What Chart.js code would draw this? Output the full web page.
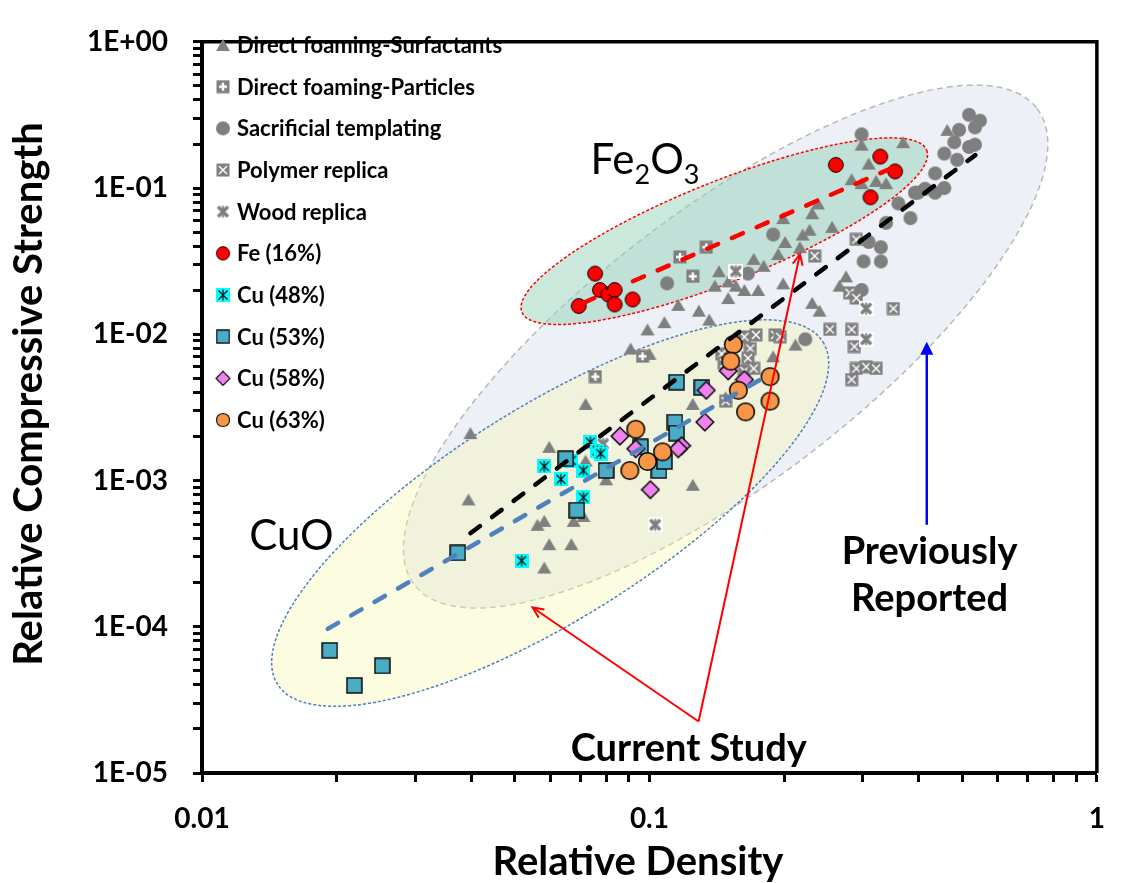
<!DOCTYPE html>
<html>
<head>
<meta charset="utf-8">
<title>Relative compressive strength vs relative density</title>
<script src="https://cdn.jsdelivr.net/npm/chart.js@4.4.1/dist/chart.umd.min.js"></script>
<style>
  html, body { margin: 0; padding: 0; background: #fff; }
  #wrap { width: 1125px; height: 883px; }
</style>
</head>
<body>
<div id="wrap"><canvas id="chart" width="1125" height="883"></canvas></div>
<script>
// ---- axis ticks ----
const xMajor = [0.01, 0.1, 1];
const xTickLabels = ['0.01', '0.1', '1'];
const yMajor = [1e-5, 1e-4, 1e-3, 1e-2, 1e-1, 1];
const yTickLabels = ['1E-05', '1E-04', '1E-03', '1E-02', '1E-01', '1E+00'];

// ---- literature data (grey) ----
const surfX = [0.369, 0.298, 0.309, 0.283, 0.298, 0.321, 0.338, 0.238, 0.199, 0.231, 0.228, 0.220, 0.256, 0.201,
  0.217, 0.194, 0.171, 0.180, 0.143, 0.140, 0.150, 0.156, 0.163, 0.175, 0.150, 0.116, 0.129, 0.136, 0.108, 0.099,
  0.199, 0.231, 0.240, 0.266, 0.275, 0.0908, 0.100, 0.212, 0.189, 0.463, 0.0720, 0.0398, 0.0597, 0.0720, 0.0800,
  0.125, 0.0394, 0.0562, 0.0582, 0.0677, 0.0712, 0.0597, 0.0669, 0.0582, 0.148, 0.125];
const surfY = [0.206, 0.198, 0.147, 0.115, 0.108, 0.112, 0.108, 0.0785, 0.0623, 0.0673, 0.0519, 0.0481, 0.0543, 0.0428,
  0.0394, 0.0354, 0.0328, 0.0294, 0.0270, 0.0215, 0.0230, 0.0215, 0.0201, 0.0201, 0.0177, 0.0159, 0.0145, 0.0126, 0.0121, 0.0108,
  0.0223, 0.0164, 0.0145, 0.0215, 0.0249, 0.00799, 0.00735, 0.0085, 0.00707, 0.250, 0.00334, 0.00211, 0.00170, 0.00137, 0.00102,
  0.000935, 0.000743, 0.000498, 0.000530, 0.000530, 0.000572, 0.000367, 0.000367, 0.000254, 0.00372, 0.00334];

const partX = [0.117, 0.134, 0.125, 0.0965, 0.0757];
const partY = [0.0338, 0.0394, 0.0249, 0.00707, 0.00513];

const sacX = [0.298, 0.189, 0.1095, 0.166, 0.360, 0.383, 0.398, 0.338, 0.309, 0.329, 0.301, 0.329, 0.298, 0.223, 0.435,
  0.518, 0.548, 0.492, 0.534, 0.480, 0.456, 0.518, 0.534, 0.487, 0.456, 0.435, 0.413, 0.392];
const sacY = [0.233, 0.0481, 0.0223, 0.026, 0.0785, 0.0623, 0.0929, 0.0578, 0.0428, 0.0394, 0.0315, 0.0315, 0.0201, 0.00925, 0.126,
  0.317, 0.289, 0.250, 0.260, 0.206, 0.172, 0.191, 0.198, 0.156, 0.100, 0.0929, 0.0988, 0.0929];

const polyX = [0.290, 0.234, 0.280, 0.290, 0.351, 0.253, 0.283, 0.287, 0.290, 0.305, 0.321, 0.283, 0.163, 0.173, 0.191,
  0.196, 0.168, 0.166, 0.145, 0.147, 0.163, 0.171, 0.148];
const polyY = [0.0445, 0.0343, 0.0192, 0.0177, 0.0150, 0.0108, 0.0108, 0.00824, 0.00584, 0.00600, 0.00584, 0.00490, 0.0096, 0.0099, 0.0099,
  0.0096, 0.00799, 0.00686, 0.00735, 0.00635, 0.00562, 0.00584, 0.00349];

const woodX = [0.305, 0.305, 0.156, 0.103, 0.0788];
const woodY = [0.0150, 0.00925, 0.0270, 0.000498, 0.00178];

// ---- this work ----
const feX = [0.0695, 0.0756, 0.0775, 0.0809, 0.0836, 0.0836, 0.0917, 0.261, 0.328, 0.354, 0.312];
const feY = [0.0156, 0.0260, 0.0201, 0.0187, 0.0201, 0.0160, 0.0173, 0.144, 0.164, 0.130, 0.0865];

const cu48X = [0.0738, 0.0765, 0.0778, 0.0582, 0.0634, 0.0712, 0.0712, 0.0518, 0.0669];
const cu48Y = [0.00183, 0.00160, 0.00153, 0.00125, 0.00102, 0.00117, 0.000766, 0.000283, 0.00137];

const cu53X = [0.0193, 0.0219, 0.0253, 0.0373, 0.0650, 0.0800, 0.0688, 0.114, 0.115, 0.105, 0.108, 0.115, 0.131, 0.0955];
const cu53Y = [0.0000690, 0.0000397, 0.0000540, 0.000320, 0.00141, 0.00117, 0.000627, 0.00251, 0.00211, 0.00117, 0.00135, 0.00470, 0.00433, 0.00170];

const cu58X = [0.150, 0.163, 0.134, 0.133, 0.0859, 0.0932, 0.118, 0.116, 0.1005];
const cu58Y = [0.00562, 0.00490, 0.00414, 0.00251, 0.00201, 0.00165, 0.00173, 0.00165, 0.000866];

const cu63X = [0.154, 0.152, 0.158, 0.186, 0.186, 0.164, 0.0932, 0.107, 0.099, 0.0904];
const cu63Y = [0.0085, 0.00655, 0.00414, 0.00513, 0.00349, 0.00295, 0.00224, 0.00157, 0.00135, 0.00117];

// ---- power-law trend lines ----
const allFitX = [0.0398, 0.535];
const allFitY = [0.000436, 0.168];
const feFitX = [0.0712, 0.356];
const feFitY = [0.0164, 0.141];
const cuFitX = [0.0191, 0.183];
const cuFitY = [0.0000967, 0.0052];

// ---- marker sprites ----
const GRAY = '#7f7f7f';
function sprite(size, paint) {
  const c = document.createElement('canvas');
  c.width = size;
  c.height = size;
  paint(c.getContext('2d'), size);
  return c;
}
function disc(g, c, r, fill, stroke, lw) {
  g.beginPath();
  g.arc(c, c, r, 0, Math.PI * 2);
  g.fillStyle = fill;
  g.fill();
  if (stroke) { g.lineWidth = lw; g.strokeStyle = stroke; g.stroke(); }
}
const markers = {
  triangle: sprite(16, (g) => {
    g.fillStyle = GRAY;
    g.beginPath(); g.moveTo(8, 2); g.lineTo(15, 14); g.lineTo(1, 14); g.closePath(); g.fill();
  }),
  plusBox: sprite(14, (g) => {
    g.fillStyle = GRAY; g.fillRect(0.5, 0.5, 13, 13);
    g.strokeStyle = '#fff'; g.lineWidth = 2.4;
    g.beginPath(); g.moveTo(3, 7); g.lineTo(11, 7); g.moveTo(7, 3); g.lineTo(7, 11); g.stroke();
  }),
  dot: sprite(16, (g) => disc(g, 8, 7, GRAY)),
  crossBox: sprite(14, (g) => {
    g.fillStyle = GRAY; g.fillRect(0.5, 0.5, 13, 13);
    g.strokeStyle = '#fff'; g.lineWidth = 1.5;
    g.beginPath(); g.moveTo(3, 3); g.lineTo(11, 11); g.moveTo(11, 3); g.lineTo(3, 11); g.stroke();
  }),
  // asterisk on a white box
  star: sprite(15, (g) => {
    g.fillStyle = '#fff'; g.fillRect(0, 0, 15, 15);
    g.strokeStyle = GRAY; g.lineWidth = 3.2; g.lineCap = 'butt';
    g.beginPath();
    g.moveTo(2.5, 2.5); g.lineTo(12.5, 12.5); g.moveTo(12.5, 2.5); g.lineTo(2.5, 12.5);
    g.stroke();
    g.lineWidth = 2;
    g.beginPath(); g.moveTo(7.5, 1.5); g.lineTo(7.5, 13.5); g.stroke();
  }),
  fe: sprite(18, (g) => disc(g, 9, 7.4, '#ff0000', '#000', 1)),
  cu48: sprite(14, (g) => {
    g.fillStyle = '#00ffff'; g.fillRect(0, 0, 14, 14);
    g.strokeStyle = '#000'; g.lineWidth = 1.1;
    g.beginPath();
    g.moveTo(2.5, 2.5); g.lineTo(11.5, 11.5); g.moveTo(11.5, 2.5); g.lineTo(2.5, 11.5);
    g.moveTo(7, 1.5); g.lineTo(7, 12.5);
    g.stroke();
  }),
  cu53: sprite(17, (g) => {
    g.fillStyle = '#4bacc6'; g.fillRect(1, 1, 15, 15);
    g.strokeStyle = '#000'; g.lineWidth = 1.4; g.strokeRect(1, 1, 15, 15);
  }),
  cu58: sprite(20, (g) => {
    g.beginPath(); g.moveTo(10, 1.2); g.lineTo(18.8, 10); g.lineTo(10, 18.8); g.lineTo(1.2, 10); g.closePath();
    g.fillStyle = '#ee82ee'; g.fill();
    g.strokeStyle = '#000'; g.lineWidth = 1.4; g.stroke();
  }),
  cu63: sprite(21, (g) => disc(g, 10.5, 8.8, '#f79646', '#000', 1.5)),
};

// bottom-most series first
const series = [
  { label: 'Direct foaming-Surfactants', x: surfX, y: surfY, marker: 'triangle' },
  { label: 'Direct foaming-Particles', x: partX, y: partY, marker: 'plusBox' },
  { label: 'Sacrificial templating', x: sacX, y: sacY, marker: 'dot' },
  { label: 'Polymer replica', x: polyX, y: polyY, marker: 'crossBox' },
  { label: 'Wood replica', x: woodX, y: woodY, marker: 'star' },
  { label: 'Fe (16%)', x: feX, y: feY, marker: 'fe', legendScale: 0.9 },
  { label: 'Cu (48%)', x: cu48X, y: cu48Y, marker: 'cu48' },
  { label: 'Cu (53%)', x: cu53X, y: cu53Y, marker: 'cu53', legendScale: 0.85 },
  { label: 'Cu (58%)', x: cu58X, y: cu58Y, marker: 'cu58', legendScale: 0.8 },
  { label: 'Cu (63%)', x: cu63X, y: cu63Y, marker: 'cu63', legendScale: 0.75 },
];

const trends = [
  { x: allFitX, y: allFitY, color: '#000000' },
  { x: cuFitX, y: cuFitY, color: '#4f81bd' },
  { x: feFitX, y: feFitY, color: '#ff0000' },
];

// shaded regions: centre in data units, semi-axes in px, rotation in degrees
const regions = [
  { cx: 0.148, cy: 0.00824, rx: 392, ry: 136, rot: -37.4, fill: 'rgba(222,227,238,0.55)', stroke: '#b8b8b8', dash: [6, 4] },
  { cx: 0.0600, cy: 0.000599, rx: 322, ry: 106, rot: -32.1, fill: 'rgba(245,245,170,0.35)', stroke: '#4f81bd', dash: [3, 2] },
  { cx: 0.147, cy: 0.0507, rx: 218, ry: 50, rot: -21.8, fill: 'rgba(150,210,185,0.5)', stroke: '#ff0000', dash: [3, 2] },
];

// callout anchors in data units
const notes = {
  fe2o3: { x: 0.0738, y: 0.124 },
  cuo: { x: 0.01275, y: 0.000415 },
  previous: { x: 0.4227, y: 0.000320, y2: 0.000153 },
  prevArrow: { x: 0.4167, y0: 0.000498, y1: 0.0089 },
  current: { x: 0.1224, y: 0.0000149 },
  currentFrom: { x: 0.1288, y: 0.0000225 },
  currentTips: [{ x: 0.217, y: 0.0354 }, { x: 0.0548, y: 0.0001355 }],
};

function logTicks(min, max) {
  const out = [];
  for (let e = Math.round(Math.log10(min)); e <= Math.round(Math.log10(max)); e++) {
    for (let m = 1; m <= 9; m++) {
      const v = Number((m * Math.pow(10, e)).toPrecision(6));
      if (v >= min && v <= max) out.push({ value: v });
    }
  }
  return out;
}

function labelFor(v, majors, labels) {
  const i = majors.findIndex((m) => Math.abs(v / m - 1) < 1e-6);
  return i >= 0 ? labels[i] : '';
}

function arrowHead(ctx, x0, y0, x1, y1, len, half, filled) {
  const a = Math.atan2(y1 - y0, x1 - x0);
  const bx = x1 - Math.cos(a) * len;
  const by = y1 - Math.sin(a) * len;
  ctx.beginPath();
  ctx.moveTo(bx + Math.sin(a) * half, by - Math.cos(a) * half);
  ctx.lineTo(x1, y1);
  ctx.lineTo(bx - Math.sin(a) * half, by + Math.cos(a) * half);
  if (filled) { ctx.closePath(); ctx.fill(); } else { ctx.stroke(); }
}

const regionsPlugin = {
  id: 'regions',
  beforeDatasetsDraw(chart) {
    const { ctx, chartArea, scales: { x, y } } = chart;
    ctx.save();
    ctx.beginPath();
    ctx.rect(chartArea.left, chartArea.top, chartArea.width, chartArea.height);
    ctx.clip();
    regions.forEach((r) => {
      ctx.beginPath();
      ctx.ellipse(x.getPixelForValue(r.cx), y.getPixelForValue(r.cy), r.rx, r.ry, r.rot * Math.PI / 180, 0, Math.PI * 2);
      ctx.fillStyle = r.fill;
      ctx.fill();
      ctx.setLineDash(r.dash);
      ctx.lineWidth = 1.5;
      ctx.strokeStyle = r.stroke;
      ctx.stroke();
    });
    ctx.restore();
  },
};

const notesPlugin = {
  id: 'notes',
  afterDatasetsDraw(chart) {
    const { ctx, scales: { x, y } } = chart;
    ctx.save();
    ctx.fillStyle = '#000';
    ctx.textBaseline = 'alphabetic';

    // Fe2O3 with subscripts
    let px = x.getPixelForValue(notes.fe2o3.x);
    const py = y.getPixelForValue(notes.fe2o3.y);
    const parts = [['Fe', false], ['2', true], ['O', false], ['3', true]];
    parts.forEach(([t, sub]) => {
      ctx.font = sub ? '27px Lato' : '42px Lato';
      ctx.textAlign = 'left';
      ctx.fillText(t, px, sub ? py + 10 : py);
      px += ctx.measureText(t).width;
    });

    ctx.font = '42px Lato';
    ctx.textBaseline = 'middle';
    ctx.fillText('CuO', x.getPixelForValue(notes.cuo.x), y.getPixelForValue(notes.cuo.y));

    // previously reported callout
    ctx.font = 'bold 38px Lato';
    ctx.textAlign = 'center';
    ctx.textBaseline = 'alphabetic';
    const prx = x.getPixelForValue(notes.previous.x);
    ctx.fillText('Previously', prx, y.getPixelForValue(notes.previous.y) + 11);
    ctx.fillText('Reported', prx, y.getPixelForValue(notes.previous.y2) + 11);

    const bx = x.getPixelForValue(notes.prevArrow.x);
    const by0 = y.getPixelForValue(notes.prevArrow.y0);
    const by1 = y.getPixelForValue(notes.prevArrow.y1);
    ctx.strokeStyle = '#0000ff';
    ctx.fillStyle = '#0000ff';
    ctx.lineWidth = 2.5;
    ctx.beginPath(); ctx.moveTo(bx, by0); ctx.lineTo(bx, by1 + 10); ctx.stroke();
    arrowHead(ctx, bx, by0, bx, by1, 13, 6.5, true);

    // current study callout
    ctx.fillStyle = '#000';
    ctx.fillText('Current Study', x.getPixelForValue(notes.current.x), y.getPixelForValue(notes.current.y) + 13);
    const cx0 = x.getPixelForValue(notes.currentFrom.x);
    const cy0 = y.getPixelForValue(notes.currentFrom.y);
    ctx.strokeStyle = '#ff0000';
    ctx.lineWidth = 2;
    notes.currentTips.forEach((t) => {
      const tx = x.getPixelForValue(t.x);
      const ty = y.getPixelForValue(t.y);
      ctx.beginPath(); ctx.moveTo(cx0, cy0); ctx.lineTo(tx, ty); ctx.stroke();
      arrowHead(ctx, cx0, cy0, tx, ty, 11, 5, false);
    });
    ctx.restore();
  },
  afterDraw(chart) {
    const { ctx, chartArea } = chart;
    ctx.save();
    // top and right frame
    ctx.strokeStyle = '#000';
    ctx.lineWidth = 3.5;
    ctx.beginPath();
    ctx.moveTo(chartArea.left, chartArea.top);
    ctx.lineTo(chartArea.right, chartArea.top);
    ctx.lineTo(chartArea.right, chartArea.bottom);
    ctx.stroke();

    // legend
    ctx.font = 'bold 22px Lato';
    ctx.fillStyle = '#000';
    ctx.textAlign = 'left';
    ctx.textBaseline = 'alphabetic';
    series.forEach((s, i) => {
      const cy = 45 + i * 41.67;
      const img = markers[s.marker];
      const k = s.legendScale || 1;
      ctx.drawImage(img, 223 - img.width * k / 2, cy - img.height * k / 2, img.width * k, img.height * k);
      ctx.fillText(s.label, 237, cy + 8);
    });

    // axis titles
    ctx.font = 'bold 40px Lato';
    ctx.textAlign = 'center';
    ctx.fillText('Relative Density', 638, 875);
    ctx.translate(42, 394);
    ctx.rotate(-Math.PI / 2);
    ctx.fillText('Relative Compressive Strength', 0, 0);
    ctx.restore();
  },
};

function build() {
  const datasets = series.map((s, i) => ({
    label: s.label,
    data: s.x.map((v, k) => ({ x: v, y: s.y[k] })),
    pointStyle: markers[s.marker],
    pointRadius: 8,
    order: 100 - i,
  }));
  trends.forEach((t) => {
    datasets.push({
      label: '',
      data: t.x.map((v, k) => ({ x: v, y: t.y[k] })),
      showLine: true,
      borderColor: t.color,
      borderWidth: 4.5,
      borderDash: [12, 15],
      borderCapStyle: 'round',
      pointRadius: 0,
      fill: false,
      order: 1,
    });
  });

  const tickFont = { family: 'Lato', weight: 'bold', size: 28 };
  const tickGrid = { drawOnChartArea: false, drawTicks: true, tickLength: 9, tickWidth: 3, tickColor: '#000' };

  new Chart(document.getElementById('chart'), {
    type: 'scatter',
    data: { datasets },
    options: {
      responsive: false,
      devicePixelRatio: 1,
      animation: false,
      events: [],
      layout: { autoPadding: false, padding: { top: 22, right: 13, left: 0, bottom: 0 } },
      plugins: { legend: { display: false }, tooltip: { enabled: false } },
      scales: {
        x: {
          type: 'logarithmic',
          min: 0.01,
          max: 1,
          afterBuildTicks: (scale) => { scale.ticks = logTicks(0.01, 1); },
          afterFit: (scale) => { scale.height = 110; },
          grid: tickGrid,
          border: { display: true, color: '#000', width: 4 },
          ticks: {
            autoSkip: false,
            maxRotation: 0,
            padding: 20,
            color: '#000',
            font: tickFont,
            callback: (v) => labelFor(v, xMajor, xTickLabels),
          },
        },
        y: {
          type: 'logarithmic',
          min: 1e-5,
          max: 1,
          afterBuildTicks: (scale) => { scale.ticks = logTicks(1e-5, 1); },
          afterFit: (scale) => { scale.width = 202; },
          grid: tickGrid,
          border: { display: true, color: '#000', width: 4 },
          ticks: {
            autoSkip: false,
            padding: 25,
            color: '#000',
            font: tickFont,
            callback: (v) => labelFor(v, yMajor, yTickLabels),
          },
        },
      },
    },
    plugins: [regionsPlugin, notesPlugin],
  });
}

Chart.defaults.font.family = 'Lato';
if (document.fonts && document.fonts.load) {
  Promise.all([document.fonts.load('bold 22px Lato'), document.fonts.load('42px Lato')]).then(build, build);
} else {
  build();
}
</script>
</body>
</html>
